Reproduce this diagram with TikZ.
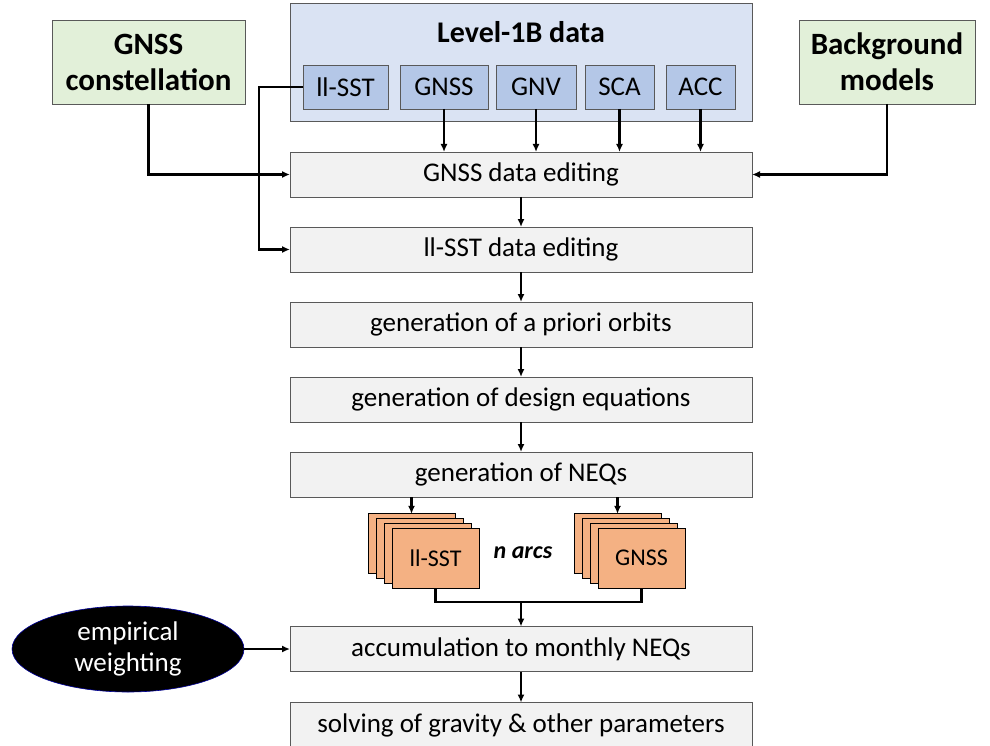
\documentclass[tikz,border=0pt]{standalone}
\usepackage{fontspec}
\setmainfont{Carlito}
\usepackage{xcolor}
\usetikzlibrary{arrows.meta, positioning, shapes.geometric}
\definecolor{birumuda}{HTML}{DAE3F3}
\definecolor{birusub}{HTML}{B4C7E7}
\definecolor{hijaumuda}{HTML}{E2F0D9}
\definecolor{abumuda}{HTML}{F2F2F2}
\definecolor{jingga}{HTML}{F4B183}
\definecolor{garisabu}{HTML}{595959}
\tikzset{
  langkah/.style={rectangle, draw=garisabu, fill=abumuda, line width=0.8pt,
    minimum width=462pt, minimum height=45pt, outer sep=0pt, align=center,
    font=\fontsize{27}{30}\selectfont},
  sumber/.style={rectangle, draw=garisabu, fill=hijaumuda, line width=0.8pt,
    minimum height=84pt, outer sep=0pt, align=center,
    font=\fontsize{31}{36}\selectfont\bfseries},
  subdata/.style={rectangle, draw=garisabu, fill=birusub, line width=0.8pt,
    minimum height=44pt, outer sep=0pt, font=\fontsize{27}{30}\selectfont},
  tumpuk/.style={rectangle, draw=black, fill=jingga, line width=1pt,
    minimum width=87pt, minimum height=60pt, outer sep=0pt,
    font=\fontsize{24}{28}\selectfont},
  panah/.style={-{Latex[length=8pt, width=7pt]}, line width=2.5pt, black},
  garis/.style={line width=2.5pt, black}
}

\begin{document}
\begin{tikzpicture}[x=1pt, y=-1pt, node distance=30pt]
  \useasboundingbox (0,0) rectangle (990,746);
  % Level-1B data
  \node[rectangle, draw=garisabu, fill=birumuda, line width=1pt, minimum width=462pt,
    minimum height=118pt, outer sep=0pt] (l1b) at (521,63) {};
  \node[font=\fontsize{30}{34}\selectfont\bfseries] (judul) at (521,32) {Level-1B data};
  \node[subdata, minimum width=85pt] (sub1) at (345.5,87) {ll-SST};
  \node[subdata, minimum width=88pt] (sub2) at (444,87) {GNSS};
  \node[subdata, minimum width=80pt] (sub3) at (536,87) {GNV};
  \node[subdata, minimum width=69pt] (sub4) at (619.5,87) {SCA};
  \node[subdata, minimum width=69pt] (sub5) at (700.5,87) {ACC};
  % sumber luar
  \node[sumber, minimum width=193pt] (gnssc) at (148.5,62) {GNSS\\constellation};
  \node[sumber, minimum width=176pt] (bgm) at (887,62) {Background\\models};
  % alur utama
  \node[langkah] (edit1) at (521,174.5) {GNSS data editing};
  \node[langkah, below=of edit1] (edit2) {ll-SST data editing};
  \node[langkah, below=of edit2] (orbit) {generation of a priori orbits};
  \node[langkah, below=of orbit] (desain) {generation of design equations};
  \node[langkah, below=of desain] (neq) {generation of NEQs};
  \node[langkah] (akum) at (521,649) {accumulation to monthly NEQs};
  \node[langkah, below=31pt of akum] (solusi) {solving of gravity \& other parameters};
  % tumpukan busur
  \foreach \i in {3,2,1} {
    \node[tumpuk] (sst\i) at (435.5-8*\i, 558-4.7*\i) {};
    \node[tumpuk] (gnss\i) at (641.5-8*\i, 558-4.7*\i) {};
  }
  \node[tumpuk] (sst) at (435.5,558) {ll-SST};
  \node[tumpuk] (gnss) at (641.5,558) {GNSS};
  \node[font=\fontsize{24}{28}\selectfont\bfseries\itshape] (busur) at (523,553) {n arcs};
  \coordinate (gabung) at (521,602);
  % pembobotan
  \node[ellipse, draw=blue!60!black, fill=black, text=white, line width=0.6pt,
    minimum width=232pt, minimum height=86pt, inner sep=0pt, align=center,
    font=\fontsize{27}{31}\selectfont] (bobot) at (128,649) {empirical\\weighting};

  % panah
  \foreach \s in {sub2,sub3,sub4,sub5}
    \draw[panah] (\s.south) -- (\s.south |- edit1.north);
  \draw[panah] (sub1.west) -- ++(-44,0) |- (edit2.west);
  \draw[panah] (gnssc.south) |- (edit1.west);
  \draw[panah] (bgm.south) |- (edit1.east);
  \draw[panah] (edit1) -- (edit2);
  \draw[panah] (edit2) -- (orbit);
  \draw[panah] (orbit) -- (desain);
  \draw[panah] (desain) -- (neq);
  \draw[panah] (neq.south -| sst3.north) -- (sst3.north);
  \draw[panah] (neq.south -| gnss3.north) -- (gnss3.north);
  \draw[garis] (sst.south) |- (gabung) -| (gnss.south);
  \draw[panah] (gabung) -- (akum.north);
  \draw[panah] (bobot.east) -- (akum.west);
  \draw[panah] (akum) -- (solusi);
\end{tikzpicture}
\end{document}
